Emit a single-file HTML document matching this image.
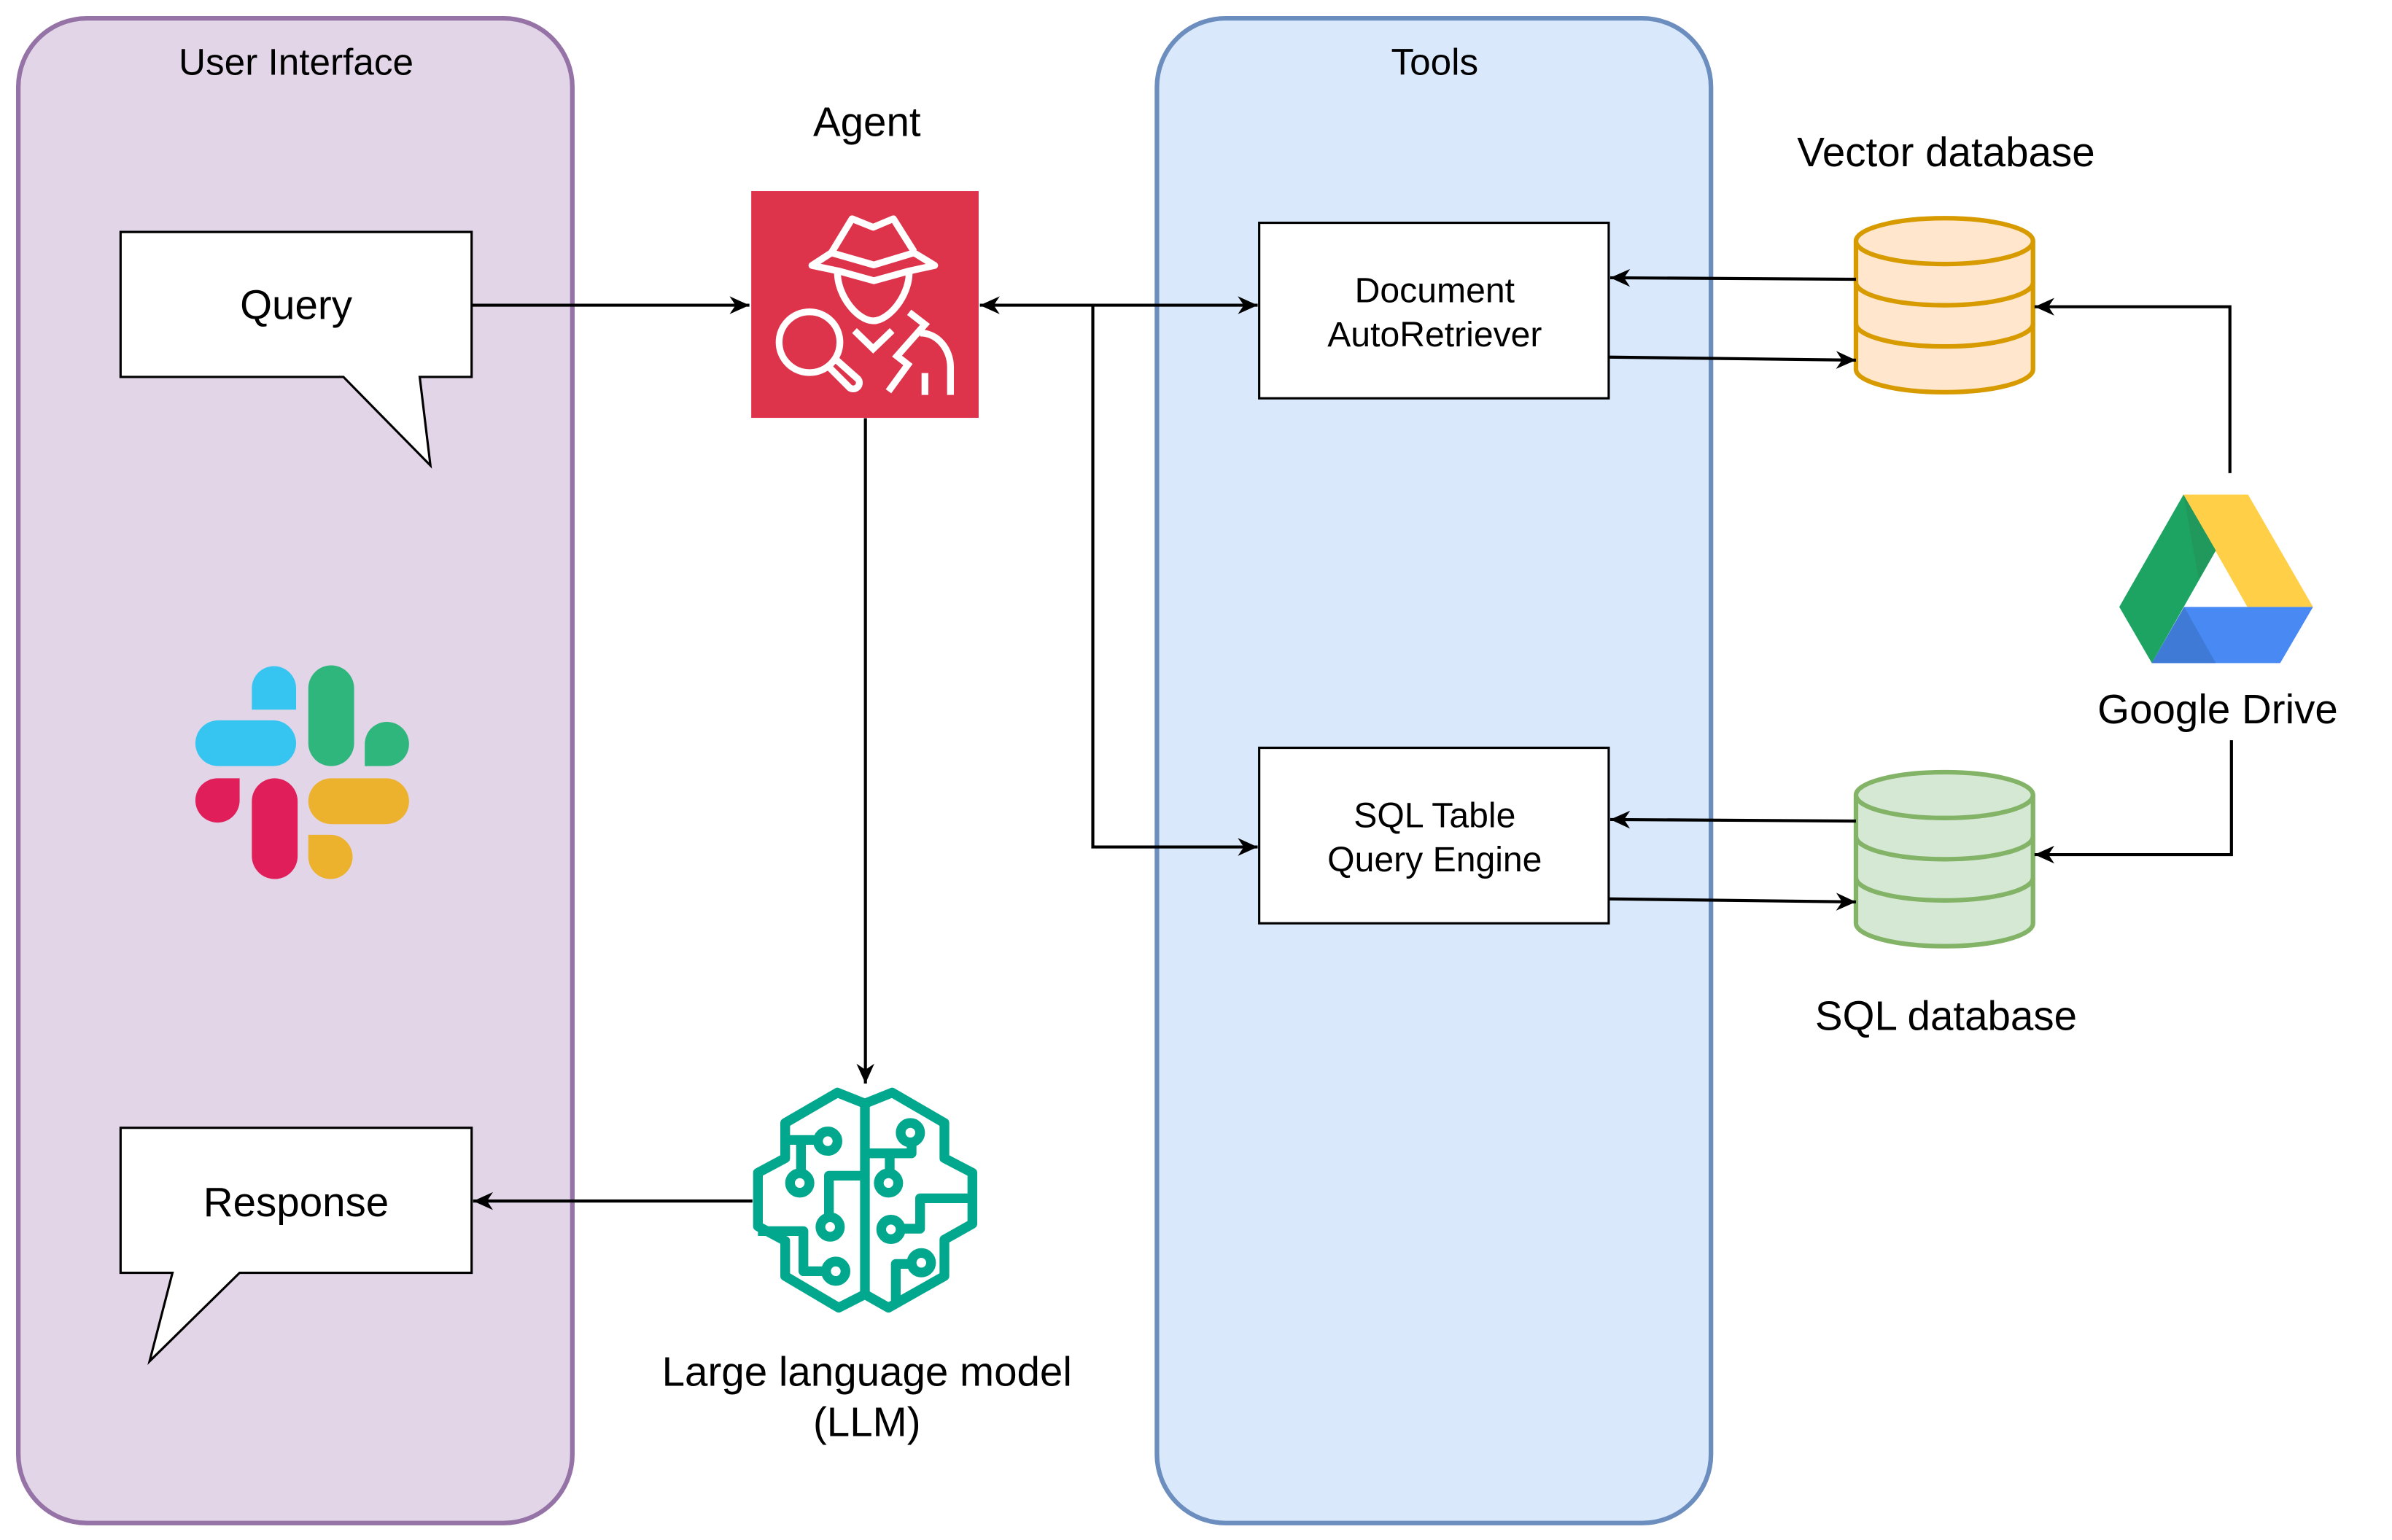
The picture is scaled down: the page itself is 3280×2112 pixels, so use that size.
<!DOCTYPE html>
<html><head><meta charset="utf-8"><style>
html,body{margin:0;padding:0;background:#fff;}
svg{display:block;}
text{font-family:"Liberation Sans",Arial,sans-serif;fill:#000;text-anchor:middle;}
</style></head><body>
<svg width="3280" height="2112" viewBox="0 0 1567.2 1009.1" preserveAspectRatio="none" xmlns="http://www.w3.org/2000/svg">
<defs>
<marker id="a" viewBox="0 0 10 10" refX="10" refY="5" markerWidth="13" markerHeight="13" markerUnits="userSpaceOnUse" orient="auto-start-reverse">
<path d="M0,0.5 L10,5 L0,9.5 L3,5 Z" fill="#000"/>
</marker>
</defs>
<rect width="1568" height="1010" fill="#fff"/>
<!-- containers -->
<rect x="12" y="12" width="363" height="986" rx="45" fill="#e1d5e7" stroke="#9673a6" stroke-width="3"/>
<rect x="758" y="12" width="363" height="986" rx="45" fill="#dae8fc" stroke="#6c8ebf" stroke-width="3"/>
<text x="194" y="49" font-size="24.5">User Interface</text>
<text x="940" y="49" font-size="24.5">Tools</text>

<!-- callouts -->
<path d="M79,152 H309 V247 H275 L282,305 L225,247 H79 Z" fill="#fff" stroke="#000" stroke-width="1.5"/>
<text x="194" y="209" font-size="27">Query</text>
<path d="M79,739 H309 V834 H157 L98,892 L113,834 H79 Z" fill="#fff" stroke="#000" stroke-width="1.5"/>
<text x="194" y="797" font-size="27">Response</text>

<!-- slack -->
<rect x="128" y="472" width="66" height="30" rx="15" fill="#36c5f0"/>
<path d="M165,465 V451 A14.5,14.5 0 1 1 194,451 V465 Z" fill="#36c5f0"/>
<rect x="202" y="436" width="30" height="66" rx="15" fill="#2eb67d"/>
<path d="M239,502 V487 A14.5,14.5 0 1 1 253.5,502 Z" fill="#2eb67d"/>
<rect x="165" y="510" width="30" height="66" rx="15" fill="#e01e5a"/>
<path d="M157,510 V525 A14.5,14.5 0 1 1 142.5,510 Z" fill="#e01e5a"/>
<rect x="202" y="510" width="66" height="30" rx="15" fill="#ecb22e"/>
<path d="M202,547 H217 A14.5,14.5 0 1 1 202,561.5 Z" fill="#ecb22e"/>

<!-- agent -->
<text x="568" y="89" font-size="27">Agent</text>
<rect x="492.2" y="125.2" width="149" height="148.6" fill="#dd344c"/>
<g transform="scale(0.47781) translate(1000,240) scale(0.33333)" fill="none" stroke="#fff" stroke-width="28" stroke-linejoin="round">
<path d="M420,320 L505,180 L592,215 L675,180 L760,315"/>
<path d="M340,372 L420,320 L595,370 L760,320 L845,372 L740,395 L595,435 L450,395 Z"/>
<path d="M445,400 C445,500 530,600 592,600 C655,600 740,500 740,400"/>
<path d="M515,640 L592,715 L670,640" stroke-linejoin="miter"/>
<circle cx="330" cy="688" r="125"/>
<path d="M410,790 L490,870 A20,20 0 0 0 530,840 L440,760"/>
<path d="M740,565 L805,615 L690,745 L735,780 L655,890" stroke-linejoin="miter"/>
<path d="M785,650 C860,650 910,720 910,790 V905"/>
<path d="M805,815 V905"/>
</g>

<!-- LLM brain -->
<g transform="scale(0.47781) translate(1000,1460) scale(0.33333)" fill="none" stroke="#01a88d" stroke-width="40" stroke-linejoin="round">
<path d="M558,160 L445,115 L230,240 L230,385 L118,445 L118,665 L230,725 L230,870 L450,1000 L558,945"/>
<path d="M558,160 L670,115 L885,240 L885,385 L1000,445 L1000,655 L885,720 L885,870 L655,1000 L558,945"/>
<path d="M558,160 V945"/>
<path d="M230,310 H365"/><circle cx="405" cy="315" r="40"/>
<path d="M295,310 V447"/><circle cx="290" cy="487" r="40"/>
<path d="M558,457 H410 V628"/><circle cx="415" cy="668" r="40"/>
<path d="M118,685 H305 V850 H398"/><circle cx="438" cy="850" r="40"/>
<path d="M558,365 H750 V320"/><circle cx="745" cy="280" r="40"/>
<path d="M660,365 V447"/><circle cx="655" cy="487" r="40"/>
<path d="M1000,550 H785 V675 H705"/><circle cx="665" cy="678" r="40"/>
<path d="M685,990 V820 H750"/><circle cx="790" cy="815" r="40"/>
</g>
<text x="568" y="908" font-size="27">Large language model</text>
<text x="568" y="941" font-size="27">(LLM)</text>

<!-- tool boxes -->
<rect x="825" y="146" width="229" height="115" fill="#fff" stroke="#000" stroke-width="1.5"/>
<text x="940" y="198" font-size="23">Document</text>
<text x="940" y="227" font-size="23">AutoRetriever</text>
<rect x="825" y="490" width="229" height="115" fill="#fff" stroke="#000" stroke-width="1.5"/>
<text x="940" y="542" font-size="23">SQL Table</text>
<text x="940" y="571" font-size="23">Query Engine</text>

<!-- vector db -->
<g stroke="#d79b00" stroke-width="3" fill="#ffe6cc">
<path d="M1216,158 V242 A58,15 0 0 0 1332,242 V158"/>
<ellipse cx="1274" cy="158" rx="58" ry="15"/>
<path d="M1216,185 A58,15 0 0 0 1332,185 M1216,212 A58,15 0 0 0 1332,212" fill="none"/>
</g>
<text x="1275" y="109" font-size="27">Vector database</text>
<!-- sql db -->
<g stroke="#82b366" stroke-width="3" fill="#d5e8d4">
<path d="M1216,521 V605 A58,15 0 0 0 1332,605 V521"/>
<ellipse cx="1274" cy="521" rx="58" ry="15"/>
<path d="M1216,548 A58,15 0 0 0 1332,548 M1216,575 A58,15 0 0 0 1332,575" fill="none"/>
</g>
<text x="1275" y="675" font-size="27">SQL database</text>

<!-- google drive -->
<g transform="scale(0.47781) translate(2900,660) scale(0.33333)">
<polygon points="282,55 548,55 815,517 545,517" fill="#ffcf48"/>
<polygon points="282,55 415,285 152,748 18,517" fill="#1da462"/>
<polygon points="282,55 415,285 345,405" fill="#21985c"/>
<polygon points="285,517 815,517 680,748 152,748" fill="#4889f4"/>
<polygon points="285,517 415,748 152,748" fill="#407ad7"/>
</g>
<text x="1453" y="474" font-size="27">Google Drive</text>

<!-- connectors -->
<g stroke="#000" stroke-width="2" fill="none">
<path d="M309,200 H491" marker-end="url(#a)"/>
<path d="M642,200 H824" marker-start="url(#a)" marker-end="url(#a)"/>
<path d="M716,200 V555 H824" marker-end="url(#a)"/>
<path d="M567,274 V710" marker-end="url(#a)"/>
<path d="M493,787 H310" marker-end="url(#a)"/>
<path d="M1216,183 L1055,182" marker-end="url(#a)"/>
<path d="M1054,234 L1216,236" marker-end="url(#a)"/>
<path d="M1216,538 L1055,537" marker-end="url(#a)"/>
<path d="M1054,589 L1216,591" marker-end="url(#a)"/>
<path d="M1461,310 V201 H1333" marker-end="url(#a)"/>
<path d="M1462,485 V560 H1333" marker-end="url(#a)"/>
</g>
</svg>
</body></html>
